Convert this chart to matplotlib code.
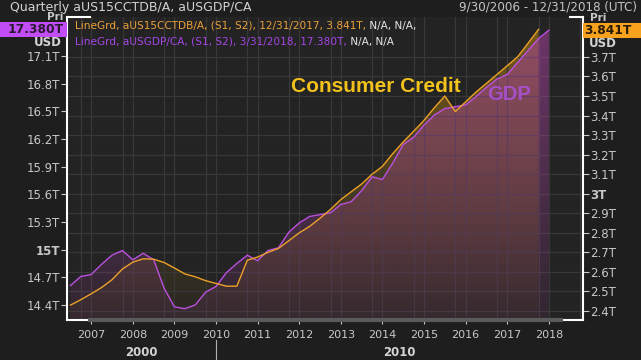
import matplotlib.pyplot as plt
import matplotlib.dates as mdates
import matplotlib.colors as mcolors
import matplotlib.transforms as mtransforms
from matplotlib.patches import Polygon, Rectangle
from matplotlib.lines import Line2D
import numpy as np
import pandas as pd

# quarterly, dated at quarter end
gdp_dates = pd.period_range("2006Q3", "2018Q1", freq="Q").to_timestamp(how="end").normalize()
cc_dates = gdp_dates[:-1]

# US real GDP, trillions USD (left axis)
gdp = [14.61, 14.71, 14.73, 14.84, 14.94, 14.99, 14.89, 14.96, 14.89, 14.58,
       14.38, 14.36, 14.40, 14.54, 14.60, 14.75, 14.85, 14.94, 14.88, 14.99,
       15.02, 15.19, 15.29, 15.36, 15.38, 15.40, 15.49, 15.52, 15.64, 15.79,
       15.76, 15.94, 16.14, 16.22, 16.35, 16.46, 16.53, 16.55, 16.57, 16.66,
       16.76, 16.85, 16.90, 17.03, 17.16, 17.29, 17.38]

# US consumer credit, trillions USD (right axis)
cc = [2.430, 2.458, 2.488, 2.520, 2.560, 2.615, 2.650, 2.667, 2.665, 2.648,
      2.620, 2.590, 2.575, 2.555, 2.541, 2.527, 2.527, 2.660, 2.676, 2.700,
      2.720, 2.760, 2.800, 2.833, 2.875, 2.920, 2.970, 3.010, 3.050, 3.100,
      3.140, 3.205, 3.265, 3.320, 3.375, 3.440, 3.500, 3.420, 3.470, 3.520,
      3.565, 3.610, 3.655, 3.700, 3.770, 3.841]

left_ticks = [14.4, 14.7, 15.0, 15.3, 15.6, 15.9, 16.2, 16.5, 16.8, 17.1]
right_ticks = [2.4, 2.5, 2.6, 2.7, 2.8, 2.9, 3.0, 3.1, 3.2, 3.3, 3.4, 3.5, 3.6, 3.7]

BG = "#1e1e1e"
AXBG = "#232323"
GRID = "#383838"
TXT = "#c8c8c8"
ORANGE = "#eca128"
PURPLE = "#bb50e0"

W, H = 641, 360


def fx(p):
    return p / W


def fy(p):
    return 1 - p / H


fig = plt.figure(figsize=(W / 100, H / 100), dpi=100)
fig.patch.set_facecolor(BG)
plt.rcParams['font.family'] = ['DejaVu Sans']

ax = fig.add_axes([fx(67), fy(320), 516 / W, 303 / H])
ax.set_facecolor(AXBG)
ax2 = ax.twinx()

xmin = mdates.date2num(pd.Timestamp("2006-08-31"))
xmax = mdates.date2num(pd.Timestamp("2019-01-25"))
ax.set_xlim(xmin, xmax)
ax.set_ylim(2.354, 3.904)
ax2.set_ylim(14.237, 17.523)


def gradient_fill(a, x, y, rgb, a_top, a_bot, z):
    base = a.get_ylim()[0]
    verts = [(x[0], base)] + list(zip(x, y)) + [(x[-1], base)]
    poly = Polygon(verts, closed=True, facecolor="none", edgecolor="none",
                   transform=a.transData)
    a.add_patch(poly)
    img = np.zeros((256, 1, 4))
    img[:, :, :3] = mcolors.to_rgb(rgb)
    img[:, 0, 3] = np.linspace(a_top, a_bot, 256)
    im = a.imshow(img, aspect="auto", extent=[0, 1, 0, 1], origin="upper",
                  transform=a.transAxes, zorder=z, interpolation="bilinear")
    im.set_clip_path(poly)


xc = mdates.date2num(cc_dates)
xg = mdates.date2num(gdp_dates)

gradient_fill(ax, xc, cc, "#8c6918", 0.80, 0.05, 1)
gradient_fill(ax2, xg, gdp, "#a8439f", 0.58, 0.10, 1)

ax2.plot(xg, gdp, color=PURPLE, lw=1.0, zorder=3)
ax2.plot(xc, cc, color=ORANGE, lw=1.0, zorder=4, transform=ax.transData)

# axes ticks
ax.xaxis.set_major_locator(mdates.YearLocator(1, month=3, day=31))
ax.xaxis.set_minor_locator(mdates.YearLocator(1, month=1, day=1))
ax.xaxis.set_major_formatter(mdates.DateFormatter("%Y"))
ax.tick_params(axis="x", which="major", colors=TXT, labelsize=8, length=3, pad=4)
ax.tick_params(axis="x", which="minor", length=0)
ax.grid(which="both", axis="x", color=GRID, lw=0.9)

ax.yaxis.tick_right()
ax.set_yticks(right_ticks)
ax.set_yticklabels([f"{v:g}T" for v in right_ticks])
ax.tick_params(axis="y", colors=TXT, labelsize=8.5, length=4, pad=1)
ax.grid(axis="y", color=GRID, lw=0.9)
for lbl, v in zip(ax.get_yticklabels(), right_ticks):
    if v == 3.0:
        lbl.set_fontweight("bold")

ax2.yaxis.tick_left()
ax2.set_yticks(left_ticks)
ax2.set_yticklabels([f"{v:g}T" for v in left_ticks])
ax2.tick_params(axis="y", colors=TXT, labelsize=8.5, length=4, pad=1)
for lbl, v in zip(ax2.get_yticklabels(), left_ticks):
    if v == 15.0:
        lbl.set_fontweight("bold")

for s in ax.spines.values():
    s.set_visible(False)
for s in ["top", "bottom"]:
    ax2.spines[s].set_visible(False)
for s in ["left", "right"]:
    ax2.spines[s].set_color("white")
    ax2.spines[s].set_linewidth(1.5)

# frame corners and range bar
for x0, x1, y0, c, lw in [(0, 0.045, 1, "white", 1.5), (0.975, 1, 1, "white", 1.5),
                          (0, 0.044, 0, "white", 1.5), (0.957, 1, 0, "white", 1.5),
                          (0.044, 0.957, 0, "#5a5a5a", 3)]:
    ax2.add_line(Line2D([x0, x1], [y0, y0], transform=ax2.transAxes, color=c,
                        lw=lw, clip_on=False, zorder=6))

ax.set_xlim(xmin, xmax)
ax.set_ylim(2.354, 3.904)
ax2.set_ylim(14.237, 17.523)

# annotations
fig.text(fx(376), fy(87), "Consumer Credit", color="#f2c21c", fontsize=15,
         fontweight="bold", family="Liberation Sans", ha="center", va="center")
fig.text(fx(509), fy(95), "GDP", color="#a650c8", fontsize=14.5,
         fontweight="bold", family="Liberation Sans", ha="center", va="center")

# legend lines
t1 = fig.text(fx(75), fy(26), "LineGrd, aUS15CCTDB/A, (S1, S2), 12/31/2017, 3.841T,",
              color="#eba03a", fontsize=7.6, va="center", ha="left", zorder=7)
ax2.annotate(" N/A, N/A,", xy=(1, 0.5), xycoords=t1, va="center", ha="left",
             color="#e6e6e6", fontsize=7.6, annotation_clip=False, zorder=7)
t2 = fig.text(fx(75), fy(42), "LineGrd, aUSGDP/CA, (S1, S2), 3/31/2018, 17.380T,",
              color="#a646e6", fontsize=7.6, va="center", ha="left", zorder=7)
ax2.annotate(" N/A, N/A", xy=(1, 0.5), xycoords=t2, va="center", ha="left",
             color="#e6e6e6", fontsize=7.6, annotation_clip=False, zorder=7)

# header
fig.text(fx(10), fy(7), "Quarterly aUS15CCTDB/A, aUSGDP/CA", color="#d2d2d2",
         fontsize=9, va="center", ha="left")
fig.text(fx(637), fy(7), "9/30/2006 - 12/31/2018 (UTC)", color="#c4c4c4",
         fontsize=8.6, va="center", ha="right")

# last value boxes
fig.text(fx(63), fy(22), "Pri", color=TXT, fontsize=7.5, fontweight="bold",
         ha="right", va="bottom", zorder=3)
fig.add_artist(Rectangle((0, fy(37)), fx(67), 15 / H, transform=fig.transFigure,
                         facecolor="#c24cf6", edgecolor="none", zorder=4))
fig.text(fx(64), fy(29.5), "17.380T", color="#2a1a30", fontsize=8.8,
         fontweight="bold", ha="right", va="center", zorder=5)
fig.text(fx(62), fy(43), "USD", color="#d4d4d4", fontsize=8.5,
         fontweight="bold", ha="right", va="center")

fig.text(fx(590), fy(23), "Pri", color=TXT, fontsize=7.5, fontweight="bold",
         ha="left", va="bottom", zorder=3)
fig.add_artist(Rectangle((fx(583), fy(38)), fx(58), 15 / H, transform=fig.transFigure,
                         facecolor="#f7a21c", edgecolor="none", zorder=4))
fig.text(fx(584), fy(30.5), "3.841T", color="#2a1a08", fontsize=8.8,
         fontweight="bold", ha="left", va="center", zorder=5)
fig.text(fx(589), fy(43.5), "USD", color="#d4d4d4", fontsize=8.5,
         fontweight="bold", ha="left", va="center")

# decade row
tr = mtransforms.blended_transform_factory(ax.transData, fig.transFigure)
sep = mdates.date2num(pd.Timestamp("2010-03-31"))
fig.text((xmin + sep) / 2, fy(353), "2000", transform=tr, color="#d4d4d4",
         fontsize=8.5, fontweight="bold", ha="center", va="center")
fig.text((sep + xmax) / 2, fy(353), "2010", transform=tr, color="#d4d4d4",
         fontsize=8.5, fontweight="bold", ha="center", va="center")
fig.add_artist(Line2D([sep, sep], [fy(340), fy(360)], transform=tr,
                      color="#b0b0b0", lw=0.8))

fig.savefig("out.png", dpi=100, facecolor=BG)
